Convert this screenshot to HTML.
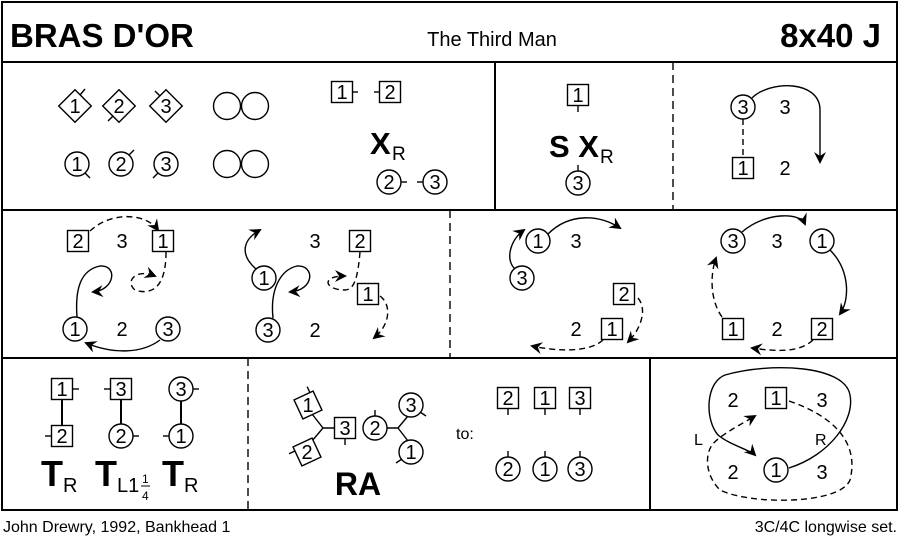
<!DOCTYPE html>
<html><head><meta charset="utf-8"><style>
body{margin:0;background:#fff}
svg{display:block}
text{font-family:"Liberation Sans",sans-serif;fill:#000}
.n{font-size:20px;text-anchor:middle}
.s{fill:none;stroke:#000;stroke-width:1.4}
.d{fill:none;stroke:#000;stroke-width:1.4;stroke-dasharray:6 4}
.b{fill:#fff;stroke:#000;stroke-width:1.4}
</style></head><body>
<svg width="900" height="542" viewBox="0 0 900 542">
<defs>
<marker id="a" markerWidth="12" markerHeight="12" refX="10" refY="6" orient="auto" markerUnits="userSpaceOnUse"><path d="M0,0 L12,6 L0,12 L4,6z" fill="#000"/></marker>
<g id="sq"><rect x="-10.5" y="-10.5" width="21" height="21" class="b"/></g>
<g id="ci"><circle r="12" class="b"/></g>
</defs>
<!-- frame -->
<rect x="2" y="2" width="895" height="508" fill="none" stroke="#000" stroke-width="2"/>
<line x1="2" y1="62" x2="897" y2="62" stroke="#000" stroke-width="2"/>
<line x1="2" y1="210" x2="897" y2="210" stroke="#000" stroke-width="2"/>
<line x1="2" y1="358" x2="897" y2="358" stroke="#000" stroke-width="2"/>
<line x1="495" y1="62" x2="495" y2="210" stroke="#000" stroke-width="2"/>
<line x1="673" y1="62" x2="673" y2="210" stroke="#000" stroke-width="1.4" stroke-dasharray="8 5"/>
<line x1="450" y1="210" x2="450" y2="358" stroke="#000" stroke-width="1.4" stroke-dasharray="8 5"/>
<line x1="248" y1="358" x2="248" y2="510" stroke="#000" stroke-width="1.4" stroke-dasharray="8 5"/>
<line x1="650" y1="358" x2="650" y2="510" stroke="#000" stroke-width="2"/>
<!-- title -->
<text x="10" y="47" font-size="33" font-weight="bold">BRAS D'OR</text>
<text x="492" y="46" font-size="20" text-anchor="middle">The Third Man</text>
<text x="881" y="47" font-size="33" font-weight="bold" text-anchor="end">8x40 J</text>
<!-- row1 left -->
<g transform="translate(75,106)"><rect x="-11.5" y="-11.5" width="23" height="23" class="b" transform="rotate(45)"/><line x1="5" y1="-11" x2="10" y2="-17" class="s"/><text class="n" y="7">1</text></g>
<g transform="translate(119,106)"><rect x="-11.5" y="-11.5" width="23" height="23" class="b" transform="rotate(45)"/><line x1="-6" y1="10" x2="-11" y2="15" class="s"/><text class="n" y="7">2</text></g>
<g transform="translate(166,106)"><rect x="-11.5" y="-11.5" width="23" height="23" class="b" transform="rotate(45)"/><line x1="-6" y1="-10" x2="-11" y2="-15" class="s"/><text class="n" y="7">3</text></g>
<g transform="translate(77,164)"><use href="#ci"/><line x1="8" y1="9" x2="13" y2="14" class="s"/><text class="n" y="7">1</text></g>
<g transform="translate(121,164)"><use href="#ci"/><line x1="8" y1="-9" x2="13" y2="-14" class="s"/><text class="n" y="7">2</text></g>
<g transform="translate(166,164)"><use href="#ci"/><line x1="-8" y1="9" x2="-13" y2="14" class="s"/><text class="n" y="7">3</text></g>
<circle cx="227" cy="106" r="13.5" class="s"/><circle cx="255" cy="106" r="13.5" class="s"/>
<circle cx="227" cy="164" r="13.5" class="s"/><circle cx="255" cy="164" r="13.5" class="s"/>
<g transform="translate(342,92)"><use href="#sq"/><line x1="10.5" y1="0" x2="16" y2="0" class="s"/><text class="n" y="7">1</text></g>
<g transform="translate(390,92)"><use href="#sq"/><line x1="-10.5" y1="0" x2="-16" y2="0" class="s"/><text class="n" y="7">2</text></g>
<text x="370" y="154" font-size="31" font-weight="bold">X</text><text x="392" y="160" font-size="19">R</text>
<g transform="translate(389,182)"><use href="#ci"/><line x1="12" y1="0" x2="18" y2="0" class="s"/><text class="n" y="7">2</text></g>
<g transform="translate(435,182)"><use href="#ci"/><line x1="-12" y1="0" x2="-18" y2="0" class="s"/><text class="n" y="7">3</text></g>
<!-- row1 middle -->
<g transform="translate(578,95)"><use href="#sq"/><line x1="0" y1="10.5" x2="0" y2="17" class="s"/><text class="n" y="7">1</text></g>
<text x="549" y="157" font-size="31" font-weight="bold">S X</text><text x="600" y="163" font-size="19">R</text>
<g transform="translate(578,183)"><use href="#ci"/><line x1="0" y1="-12" x2="0" y2="-18" class="s"/><text class="n" y="7">3</text></g>
<!-- row1 right -->
<line x1="743" y1="119" x2="743" y2="157" class="d"/>
<g transform="translate(743,107)"><use href="#ci"/><text class="n" y="7">3</text></g>
<text class="n" x="785" y="114">3</text>
<path d="M752,98 C770,80 820,80 820,110 L820,162" class="s" marker-end="url(#a)"/>
<g transform="translate(743,168)"><use href="#sq"/><text class="n" y="7">1</text></g>
<text class="n" x="785" y="175">2</text>
<!-- row2 group1 -->
<path d="M90,231 C110,212 145,212 158,230" class="d" marker-end="url(#a)"/>
<path d="M166,252 C166,290 150,295 135,290 C125,282 135,268 155,276" class="d" marker-end="url(#a)"/>
<path d="M77,317 C75,290 80,270 100,266 C118,265 115,290 93,292" class="s" marker-end="url(#a)"/>
<path d="M160,340 C140,355 110,353 86,343" class="s" marker-end="url(#a)"/>
<g transform="translate(78,241)"><use href="#sq"/><text class="n" y="7">2</text></g>
<text class="n" x="122" y="248">3</text>
<g transform="translate(163,241)"><use href="#sq"/><text class="n" y="7">1</text></g>
<g transform="translate(75,329)"><use href="#ci"/><text class="n" y="7">1</text></g>
<text class="n" x="122" y="336">2</text>
<g transform="translate(168,329)"><use href="#ci"/><text class="n" y="7">3</text></g>
<!-- row2 group2 -->
<path d="M256,269 C240,255 242,240 260,230" class="s" marker-end="url(#a)"/>
<path d="M273,318 C270,290 280,270 297,266 C315,265 315,290 290,292" class="s" marker-end="url(#a)"/>
<path d="M360,252 C358,275 355,290 345,290 C325,290 320,276 345,276" class="d" marker-end="url(#a)"/>
<path d="M380,296 C392,305 390,325 374,338" class="d" marker-end="url(#a)"/>
<g transform="translate(264,278)"><use href="#ci"/><text class="n" y="7">1</text></g>
<text class="n" x="315" y="248">3</text>
<g transform="translate(360,241)"><use href="#sq"/><text class="n" y="7">2</text></g>
<g transform="translate(368,294)"><use href="#sq"/><text class="n" y="7">1</text></g>
<g transform="translate(268,330)"><use href="#ci"/><text class="n" y="7">3</text></g>
<text class="n" x="315" y="337">2</text>
<!-- row2 group3 -->
<path d="M515,269 C505,260 510,240 524,230" class="s" marker-end="url(#a)"/>
<path d="M548,234 C570,212 600,215 620,228" class="s" marker-end="url(#a)"/>
<path d="M638,298 C648,310 640,330 628,342" class="d" marker-end="url(#a)"/>
<path d="M603,340 C590,352 560,352 532,346" class="d" marker-end="url(#a)"/>
<g transform="translate(538,241)"><use href="#ci"/><text class="n" y="7">1</text></g>
<text class="n" x="576" y="248">3</text>
<g transform="translate(522,278)"><use href="#ci"/><text class="n" y="7">3</text></g>
<g transform="translate(624,294)"><use href="#sq"/><text class="n" y="7">2</text></g>
<g transform="translate(612,329)"><use href="#sq"/><text class="n" y="7">1</text></g>
<text class="n" x="576" y="336">2</text>
<!-- row2 group4 -->
<path d="M742,232 C765,212 800,212 805,224" class="s" marker-end="url(#a)"/>
<path d="M830,250 C850,270 850,300 840,314" class="s" marker-end="url(#a)"/>
<path d="M813,340 C800,352 780,352 752,348" class="d" marker-end="url(#a)"/>
<path d="M722,317 C710,300 710,275 716,258" class="d" marker-end="url(#a)"/>
<g transform="translate(733,241)"><use href="#ci"/><text class="n" y="7">3</text></g>
<text class="n" x="777" y="248">3</text>
<g transform="translate(822,241)"><use href="#ci"/><text class="n" y="7">1</text></g>
<g transform="translate(733,329)"><use href="#sq"/><text class="n" y="7">1</text></g>
<text class="n" x="777" y="336">2</text>
<g transform="translate(822,329)"><use href="#sq"/><text class="n" y="7">2</text></g>
<!-- row3 T -->
<line x1="62" y1="390" x2="62" y2="435" stroke="#000" stroke-width="2"/>
<line x1="121" y1="390" x2="121" y2="435" stroke="#000" stroke-width="2"/>
<line x1="181" y1="390" x2="181" y2="435" stroke="#000" stroke-width="2"/>
<g transform="translate(62,389)"><use href="#sq"/><line x1="10.5" y1="0" x2="17" y2="0" class="s"/><text class="n" y="7">1</text></g>
<g transform="translate(62,436)"><use href="#sq"/><line x1="-10.5" y1="0" x2="-17" y2="0" class="s"/><text class="n" y="7">2</text></g>
<g transform="translate(121,389)"><use href="#sq"/><line x1="-10.5" y1="0" x2="-17" y2="0" class="s"/><text class="n" y="7">3</text></g>
<g transform="translate(121,436)"><use href="#ci"/><line x1="12" y1="0" x2="18" y2="0" class="s"/><text class="n" y="7">2</text></g>
<g transform="translate(181,389)"><use href="#ci"/><line x1="12" y1="0" x2="18" y2="0" class="s"/><text class="n" y="7">3</text></g>
<g transform="translate(181,436)"><use href="#ci"/><line x1="-12" y1="0" x2="-18" y2="0" class="s"/><text class="n" y="7">1</text></g>
<text x="41" y="486" font-size="36" font-weight="bold">T</text><text x="63" y="492" font-size="20">R</text>
<text x="95" y="486" font-size="36" font-weight="bold">T</text><text x="117" y="492" font-size="20">L1</text>
<text x="142" y="483" font-size="12">1</text><line x1="141" y1="486" x2="150" y2="486" stroke="#000"/><text x="142" y="500" font-size="12">4</text>
<text x="162" y="486" font-size="36" font-weight="bold">T</text><text x="184" y="492" font-size="20">R</text>
<!-- RA -->
<path d="M312,414 L323,428 L312,441 M323,428 L336,428 M386,428 L398,428 L408,416 M398,428 L408,441" class="s" stroke-width="2.4"/>
<g transform="translate(308,405) rotate(-25)"><use href="#sq"/><line x1="7" y1="-10.5" x2="7" y2="-17" class="s"/><text class="n" y="7" transform="rotate(25)">1</text></g>
<g transform="translate(307,452) rotate(-25)"><use href="#sq"/><line x1="-10.5" y1="-6" x2="-17" y2="-6" class="s"/><text class="n" y="7" transform="rotate(25)">2</text></g>
<g transform="translate(345,428)"><use href="#sq"/><line x1="0" y1="10.5" x2="0" y2="17" class="s"/><text class="n" y="7">3</text></g>
<g transform="translate(375,428)"><use href="#ci"/><line x1="0" y1="-12" x2="0" y2="-18" class="s"/><text class="n" y="7">2</text></g>
<g transform="translate(411,405)"><use href="#ci"/><line x1="9" y1="7" x2="15" y2="11" class="s"/><text class="n" y="7">3</text></g>
<g transform="translate(411,452)"><use href="#ci"/><line x1="-9" y1="7" x2="-15" y2="11" class="s"/><text class="n" y="7">1</text></g>
<text x="358" y="495" font-size="32" font-weight="bold" text-anchor="middle">RA</text>
<text x="456" y="439" font-size="16">to:</text>
<g transform="translate(508,398)"><use href="#sq"/><line x1="0" y1="10.5" x2="0" y2="17" class="s"/><text class="n" y="7">2</text></g>
<g transform="translate(545,398)"><use href="#sq"/><line x1="0" y1="10.5" x2="0" y2="17" class="s"/><text class="n" y="7">1</text></g>
<g transform="translate(580,398)"><use href="#sq"/><line x1="0" y1="10.5" x2="0" y2="17" class="s"/><text class="n" y="7">3</text></g>
<g transform="translate(508,469)"><use href="#ci"/><line x1="0" y1="-12" x2="0" y2="-18" class="s"/><text class="n" y="7">2</text></g>
<g transform="translate(545,469)"><use href="#ci"/><line x1="0" y1="-12" x2="0" y2="-18" class="s"/><text class="n" y="7">1</text></g>
<g transform="translate(580,469)"><use href="#ci"/><line x1="0" y1="-12" x2="0" y2="-18" class="s"/><text class="n" y="7">3</text></g>
<!-- row3 right -->
<path d="M789,468 C830,455 855,420 850,395 C845,365 770,362 725,375 C705,383 705,420 718,435 C730,445 750,450 755,455" class="s" marker-end="url(#a)"/>
<path d="M789,401 C830,415 860,440 850,480 C840,505 750,505 720,490 C705,475 705,455 712,445 C720,435 740,425 755,416" class="d" marker-end="url(#a)"/>
<text class="n" x="733" y="407">2</text>
<g transform="translate(776,398)"><use href="#sq"/><text class="n" y="7">1</text></g>
<text class="n" x="822" y="407">3</text>
<text class="n" x="733" y="479">2</text>
<g transform="translate(776,470)"><use href="#ci"/><text class="n" y="7">1</text></g>
<text class="n" x="822" y="479">3</text>
<text x="694" y="445" font-size="16">L</text>
<text x="815" y="445" font-size="16">R</text>
<!-- footer -->
<text x="3" y="532" font-size="16">John Drewry, 1992, Bankhead 1</text>
<text x="897" y="532" font-size="16" text-anchor="end">3C/4C longwise set.</text>
</svg>
</body></html>
